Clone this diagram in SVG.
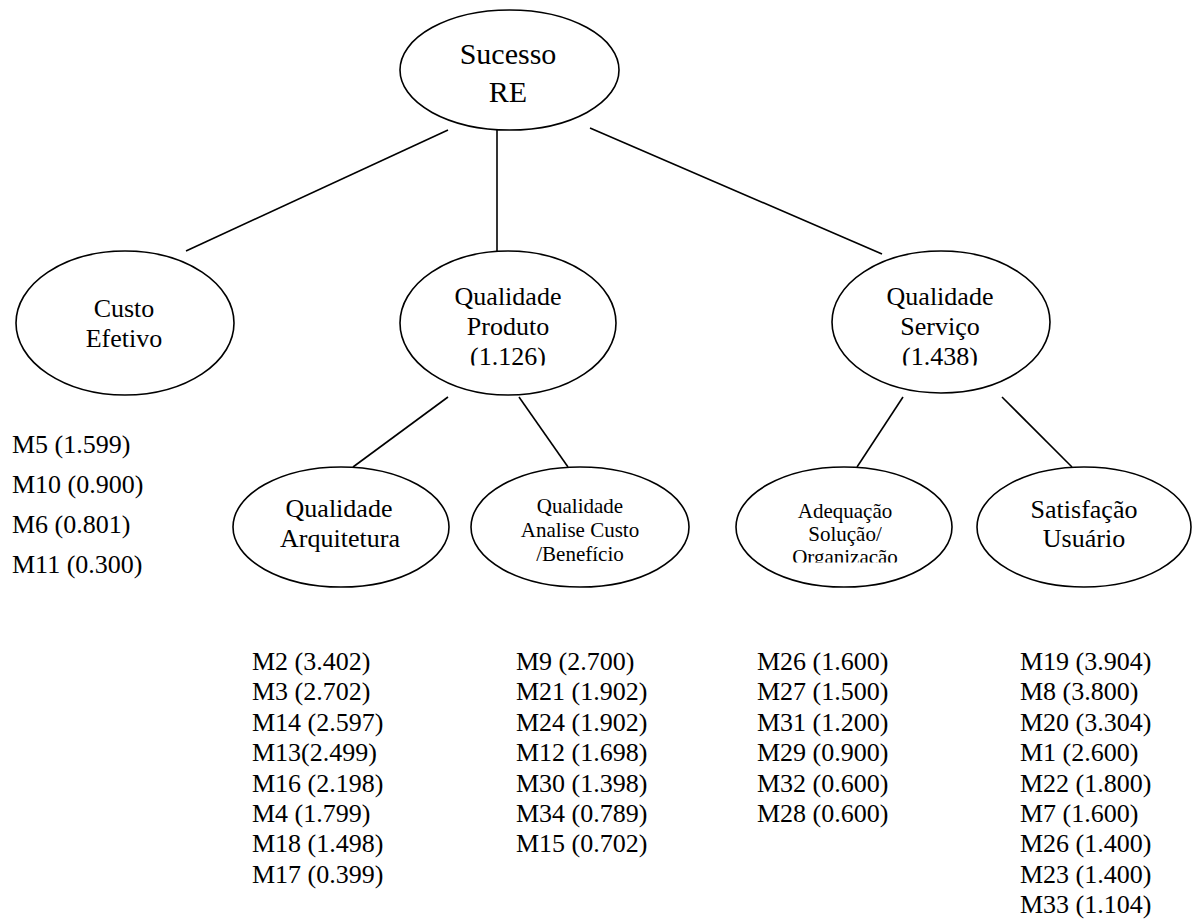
<svg xmlns="http://www.w3.org/2000/svg" width="1192" height="920" viewBox="0 0 1192 920">
<style>
.node ellipse{fill:#fff;stroke:#000;stroke-width:1.6}
.conn line{stroke:#000;stroke-width:1.6}
text{font-family:"Liberation Serif","Times New Roman",serif;fill:#000}
.t30{font-size:30px;text-anchor:middle}
.t26{font-size:26px;text-anchor:middle}
.t21{font-size:21px;text-anchor:middle}
.lst{font-size:26px}
</style>
<defs>
<clipPath id="cProd"><rect x="380" y="240" width="260" height="125.5"/></clipPath>
<clipPath id="cServ"><rect x="820" y="240" width="250" height="125.5"/></clipPath>
<clipPath id="cOrg"><rect x="720" y="460" width="260" height="102.5"/></clipPath>
</defs>
<rect width="1192" height="920" fill="#fff"/>
<g id="connectors" class="conn">
<line x1="448" y1="130" x2="186" y2="251"/>
<line x1="497" y1="130" x2="497" y2="251"/>
<line x1="590" y1="128" x2="882" y2="254"/>
<line x1="448" y1="397" x2="353" y2="467"/>
<line x1="519" y1="397" x2="568" y2="467"/>
<line x1="903" y1="397" x2="857" y2="467"/>
<line x1="1002" y1="397" x2="1072" y2="467"/>
</g>
<g id="sucesso" class="node">
<ellipse cx="509.5" cy="70" rx="109.5" ry="60"/>
<text class="t30" x="508" y="64">Sucesso</text>
<text class="t30" x="508" y="102">RE</text>
</g>
<g id="custo" class="node">
<ellipse cx="125" cy="323" rx="109" ry="72"/>
<text class="t26" x="124" y="317">Custo</text>
<text class="t26" x="124" y="347">Efetivo</text>
</g>
<g id="produto" class="node">
<ellipse cx="508" cy="323" rx="108" ry="72"/>
<g clip-path="url(#cProd)">
<text class="t26" x="508" y="305">Qualidade</text>
<text class="t26" x="508" y="335">Produto</text>
<text class="t26" x="508" y="365">(1.126)</text>
</g>
</g>
<g id="servico" class="node">
<ellipse cx="941" cy="322" rx="109" ry="71"/>
<g clip-path="url(#cServ)">
<text class="t26" x="940" y="305">Qualidade</text>
<text class="t26" x="940" y="335">Serviço</text>
<text class="t26" x="940" y="365">(1.438)</text>
</g>
</g>
<g id="arquitetura" class="node">
<ellipse cx="341" cy="527" rx="108" ry="60"/>
<text class="t26" x="339" y="517">Qualidade</text>
<text class="t26" x="340" y="547">Arquitetura</text>
</g>
<g id="analise" class="node">
<ellipse cx="580" cy="527" rx="109" ry="60"/>
<text class="t21" x="580" y="512.5">Qualidade</text>
<text class="t21" x="580" y="537">Analise Custo</text>
<text class="t21" x="580" y="561">/Benefício</text>
</g>
<g id="adequacao" class="node">
<ellipse cx="844" cy="527" rx="108" ry="60"/>
<text class="t21" x="845" y="517.5">Adequação</text>
<text class="t21" x="845" y="540.5">Solução/</text>
<g clip-path="url(#cOrg)"><text class="t21" x="845" y="564">Organização</text></g>
</g>
<g id="satisfacao" class="node">
<ellipse cx="1084" cy="527" rx="107" ry="60"/>
<text class="t26" x="1084" y="518">Satisfação</text>
<text class="t26" x="1084" y="547">Usuário</text>
</g>
<g id="lista-custo" class="lst">
<text x="12" y="453">M5 (1.599)</text>
<text x="12" y="493">M10 (0.900)</text>
<text x="12" y="533">M6 (0.801)</text>
<text x="12" y="573">M11 (0.300)</text>
</g>
<g id="lista-arquitetura" class="lst">
<text x="252" y="670">M2 (3.402)</text>
<text x="252" y="700.4">M3 (2.702)</text>
<text x="252" y="730.8">M14 (2.597)</text>
<text x="252" y="761.2">M13(2.499)</text>
<text x="252" y="791.6">M16 (2.198)</text>
<text x="252" y="822">M4 (1.799)</text>
<text x="252" y="852.4">M18 (1.498)</text>
<text x="252" y="882.8">M17 (0.399)</text>
</g>
<g id="lista-analise" class="lst">
<text x="516" y="670">M9 (2.700)</text>
<text x="516" y="700.4">M21 (1.902)</text>
<text x="516" y="730.8">M24 (1.902)</text>
<text x="516" y="761.2">M12 (1.698)</text>
<text x="516" y="791.6">M30 (1.398)</text>
<text x="516" y="822">M34 (0.789)</text>
<text x="516" y="852.4">M15 (0.702)</text>
</g>
<g id="lista-adequacao" class="lst">
<text x="757" y="670">M26 (1.600)</text>
<text x="757" y="700.4">M27 (1.500)</text>
<text x="757" y="730.8">M31 (1.200)</text>
<text x="757" y="761.2">M29 (0.900)</text>
<text x="757" y="791.6">M32 (0.600)</text>
<text x="757" y="822">M28 (0.600)</text>
</g>
<g id="lista-satisfacao" class="lst">
<text x="1020" y="670">M19 (3.904)</text>
<text x="1020" y="700.4">M8 (3.800)</text>
<text x="1020" y="730.8">M20 (3.304)</text>
<text x="1020" y="761.2">M1 (2.600)</text>
<text x="1020" y="791.6">M22 (1.800)</text>
<text x="1020" y="822">M7 (1.600)</text>
<text x="1020" y="852.4">M26 (1.400)</text>
<text x="1020" y="882.8">M23 (1.400)</text>
<text x="1020" y="913">M33 (1.104)</text>
</g>
</svg>
